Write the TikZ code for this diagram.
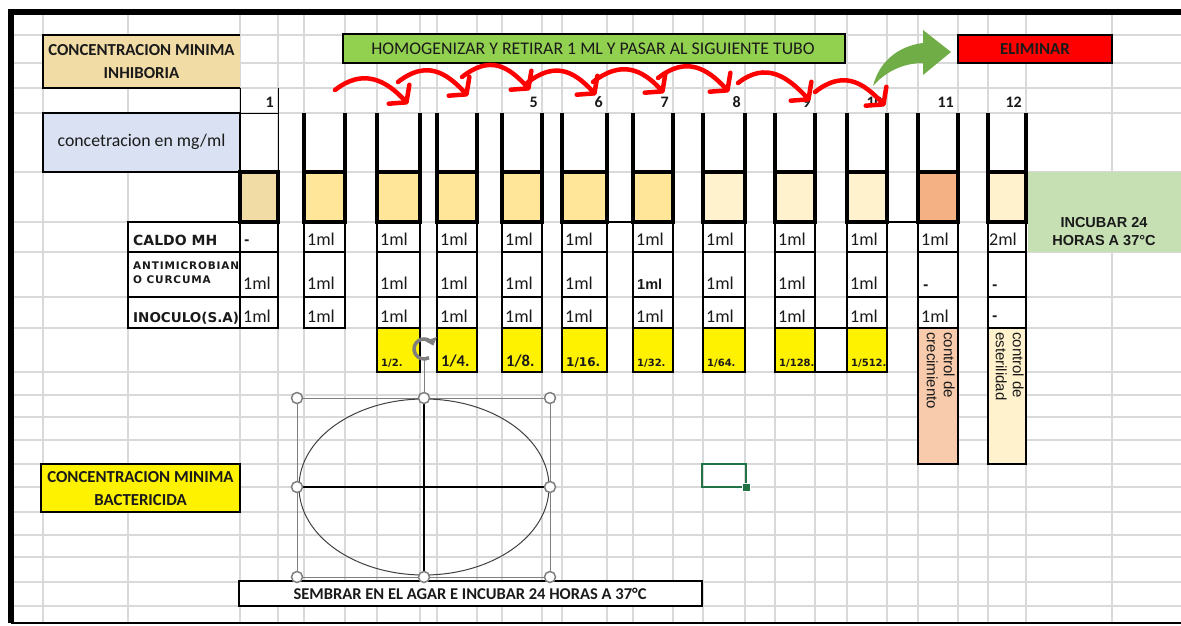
\documentclass[tikz,border=0pt]{standalone}
\usepackage{fontspec}
\setmainfont{Carlito}
\newfontfamily\blockfont{DejaVu Sans}
\newfontfamily\tinyblock{DejaVu Sans}[LetterSpace=8]
\newfontfamily\arialfont{Liberation Sans}
\usetikzlibrary{arrows.meta}

\definecolor{gridgray}{HTML}{D9D9D9}
\definecolor{tanhdr}{HTML}{F2DCA6}
\definecolor{lavender}{HTML}{D9E1F2}
\definecolor{tubeA}{HTML}{FFE699}
\definecolor{tubeB}{HTML}{FFF2CC}
\definecolor{tubeC}{HTML}{F4B183}
\definecolor{ctrlpeach}{HTML}{F8CBAD}
\definecolor{greenhdr}{HTML}{92D050}
\definecolor{greenpale}{HTML}{C6E0B4}
\definecolor{arrowgreen}{HTML}{70AD47}
\definecolor{selgreen}{HTML}{217346}
\definecolor{handlegray}{HTML}{7F7F7F}
\definecolor{inkred}{HTML}{FF0000}
\definecolor{textdark}{HTML}{1A1A1A}

\newcommand\calib{\fontsize{17.8}{23}\selectfont}
\newcommand\calibb{\fontsize{16.8}{23}\selectfont\bfseries}

\begin{document}
\begin{tikzpicture}[x=1pt,y=-1pt,
  every node/.style={inner sep=0pt,text=textdark},
  wall/.style={line width=3.5pt},
  cellbox/.style={draw,line width=2pt},
  hdrtext/.style={font=\calibb,align=center},
  numtext/.style={font=\fontsize{16}{18}\selectfont\bfseries,anchor=base east},
  valtext/.style={font=\fontsize{18}{18}\selectfont,anchor=base west},
  dashtext/.style={font=\blockfont\fontsize{13}{15}\selectfont\bfseries,anchor=base west},
  rowlabel/.style={font=\blockfont\fontsize{13.5}{15}\selectfont\bfseries,anchor=base west},
  dilsmall/.style={font=\blockfont\fontsize{10}{11}\selectfont\bfseries,anchor=base west},
  dilmid/.style={font=\blockfont\fontsize{12}{13}\selectfont\bfseries,anchor=base west},
  dilbig/.style={font=\fontsize{16.5}{18}\selectfont\bfseries,anchor=base west},
  ctrltext/.style={font=\arialfont\fontsize{15}{17}\selectfont,rotate=-90,anchor=north west,align=left},
  redarc/.style={draw=inkred,line width=4.5pt,line cap=round,-{Straight Barb[length=11pt,width=28pt,round]}},
  handle/.style={draw=handlegray,fill=white,line width=1.5pt}]
\useasboundingbox (0,0) rectangle (1181,625);

% hoja de calculo
\foreach \gx in {43,128,240,278,304,345,377,420,437,477,502,542,562,607,633,673,703,745,775,815,847,887,918,958,988,1026,1112}
  \draw[gridgray,line width=1.3pt] (\gx,12) -- (\gx,623);
\foreach \gy in {35,63,88,113,172,222,252,297,328,372,395,417,440,464,487,512,535,557,582,606}
  \draw[gridgray,line width=1.3pt] (11,\gy) -- (1181,\gy);
\draw[line width=6pt] (11,623) -- (11,12) -- (1181,12);
\draw[line width=2pt] (11,623) -- (1181,623);

% titulos
\fill[tanhdr] (43,35) rectangle (240,88);
\draw[line width=2pt] (240,35) -- (43,35) -- (43,88) -- (240,88);
\node[hdrtext] (cmi) at (141.5,62) {CONCENTRACION MINIMA\\INHIBORIA};
\draw[line width=2pt,fill=lavender] (43,113) rectangle (240,172);
\node[font=\calib] (conc) at (141.5,142) {concetracion en mg/ml};
\draw[line width=2pt,fill=greenhdr] (343,34) rectangle (845,63);
\node[font=\calib] (homog) at (593,49) {HOMOGENIZAR Y RETIRAR 1 ML Y PASAR AL SIGUIENTE TUBO};
\draw[line width=2pt,fill=inkred] (958,35) rectangle (1112,63);
\node[font=\calibb] (elim) at (1035,49) {ELIMINAR};
\fill[greenpale] (1028,172) rectangle (1181,252);
\node[font=\arialfont\fontsize{14.5}{18}\selectfont\bfseries,align=center] (incub) at (1104,232) {INCUBAR 24\\HORAS A 37°C};

% tubos
\draw[line width=1pt] (240,88) -- (240,113) -- (278,113);
\draw[line width=1pt] (278,88) -- (278,172);
\draw[wall,fill=tanhdr] (240,172) rectangle (278,222);
\foreach \n/\xl/\xr/\fillc in {2/304/345/tubeA,3/377/420/tubeA,4/437/477/tubeA,5/502/542/tubeA,6/562/607/tubeA,7/633/673/tubeA,8/703/745/tubeB,9/775/815/tubeB,10/847/887/tubeB,11/918/958/tubeC,12/988/1026/tubeB}{
  \draw[wall] (\xl,113) -- (\xl,172);
  \draw[wall] (\xr,113) -- (\xr,172);
  \draw[wall,fill=\fillc] (\xl,172) rectangle (\xr,222);
}
\draw[line width=1.5pt] (607,222) -- (633,222);
\draw[line width=1.5pt] (887,222) -- (918,222);
\foreach \n/\xr in {1/278,5/542,6/607,7/673,8/745,9/815,10/887,11/958,12/1026}
  \node[numtext] (num\n) at (\xr-4,107) {\n};

% tabla de volumenes
\draw[cellbox] (128,222) rectangle (240,328);
\draw[line width=2pt] (128,252) -- (240,252);
\draw[line width=2pt] (128,297) -- (240,297);
\node[rowlabel,font=\blockfont\fontsize{14}{15}\selectfont\bfseries] (caldo) at (133,245) {CALDO MH};
\node[font=\tinyblock\fontsize{10.5}{14}\selectfont\bfseries,anchor=north west,align=left] (antim) at (133,261) {ANTIMICROBIAN\\O CURCUMA};
\node[rowlabel] (inoc) at (133,322) {INOCULO(S.A)};
\foreach \xl/\xr in {240/278,304/345,377/420,437/477,502/542,562/607,633/673,703/745,775/815,847/887,918/958,988/1026}{
  \draw[cellbox] (\xl,222) rectangle (\xr,252);
  \draw[cellbox] (\xl,252) rectangle (\xr,297);
  \draw[cellbox] (\xl,297) rectangle (\xr,328);
}
\node[dashtext] (c1) at (244,244) {-};
\foreach \n/\xl in {2/304,3/377,4/437,5/502,6/562,7/633,8/703,9/775,10/847,11/918}
  \node[valtext] (c\n) at (\xl+3,245) {1ml};
\node[valtext] (c12) at (989,245) {2ml};
\foreach \n/\xl in {1/240,2/304,3/377,4/437,5/502,6/562,8/703,9/775,10/847}
  \node[valtext] (a\n) at (\xl+3,289) {1ml};
\node[valtext,font=\arialfont\fontsize{14.5}{16}\selectfont\bfseries] (a7) at (637,289) {1ml};
\node[dashtext] (a11) at (923,289) {-};
\node[dashtext] (a12) at (992,289) {-};
\foreach \n/\xl in {1/240,2/304,3/377,4/437,5/502,6/562,7/633,8/703,9/775,10/847,11/918}
  \node[valtext] (i\n) at (\xl+3,322) {1ml};
\node[dashtext] (i12) at (992,320) {-};

% diluciones
\foreach \n/\xl/\xr/\den/\sty in {3/377/420/2/dilsmall,4/437/477/4/dilbig,5/502/542/8/dilbig,6/562/607/16/dilmid,7/633/673/32/dilsmall,8/703/745/64/dilsmall,9/775/815/128/dilsmall,10/847/887/512/dilsmall}{
  \draw[cellbox,fill=yellow] (\xl,328) rectangle (\xr,372);
  \node[\sty] (dil\n) at (\xl+4,366) {1/\den.};
}
\draw[line width=1.2pt] (815,328) rectangle (847,372);
\draw[line width=2.5pt,fill=ctrlpeach] (918,328) rectangle (958,464);
\draw[line width=2.5pt,fill=tubeB] (988,328) rectangle (1026,464);
\node[ctrltext] (ctl11) at (955,332) {control de\\crecimiento};
\node[ctrltext] (ctl12) at (1024,332) {control de\\esterilidad};

% flechas de traspaso
\foreach \sx/\sy/\tx/\ty in {335/90/408/104,398/82/468/96,462/77/530/90,527/83/596/95,593/82/664/93,658/78/729/92,738/83/810/101,815/92/885/106}
  \draw[redarc] (\sx,\sy) .. controls +(28,-22) and +(-22,-24) .. (\tx,\ty);
\fill[arrowgreen] (873,86) .. controls (879,62) and (898,46) .. (923,43) -- (923,30) -- (951,52)
  -- (923,75) -- (923,63) .. controls (903,63) and (885,72) .. cycle;

% placa de agar
\draw[handlegray,line width=0.8pt] (297,398) rectangle (550,577);
\draw[black!75,line width=1pt] (424,487) ellipse [x radius=125pt,y radius=88pt];
\draw[line width=2pt] (424,399) -- (424,575);
\draw[line width=2pt] (299,487) -- (549,487);
\draw[handlegray,line width=1pt] (424,360) -- (424,398);
\draw[handlegray,line width=3.5pt,-{Triangle[length=7pt,width=12pt]}] (424,349) ++(60:10) arc[start angle=60,end angle=340,radius=10];
\draw[line width=2.5pt,fill=white] (239,581) rectangle (702,606);
\node[font=\fontsize{16.5}{18}\selectfont\bfseries] (sembrar) at (470,594) {SEMBRAR EN EL AGAR E INCUBAR 24 HORAS A 37°C};
\foreach \hx/\hy in {297/398,424/398,550/398,297/487,550/487,297/577,424/577,550/577}
  \draw[handle] (\hx,\hy) circle [radius=5.5pt];

\draw[line width=2pt,fill=yellow] (41,464) rectangle (240,512);
\node[hdrtext] (cmb) at (140.5,489) {CONCENTRACION MINIMA\\BACTERICIDA};

% celda activa
\draw[selgreen,line width=2pt] (702,464) rectangle (746,487);
\draw[white,fill=selgreen,line width=1pt] (742,483) rectangle (750,491);
\end{tikzpicture}
\end{document}
